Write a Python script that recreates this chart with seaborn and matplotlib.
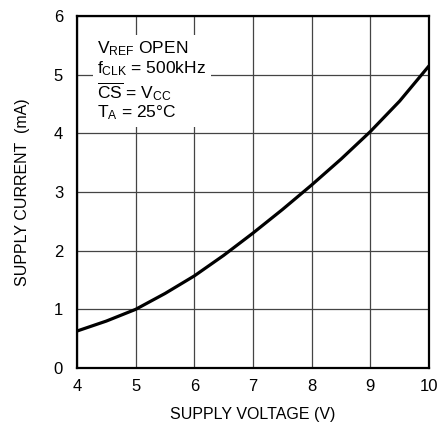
import matplotlib
matplotlib.use("Agg")
import matplotlib.pyplot as plt
import seaborn as sns
import pandas as pd

# values
supply_voltage = [4.0, 4.5, 5.0, 5.5, 6.0, 6.5, 7.0, 7.5, 8.0, 8.5, 9.0, 9.5, 10.0]
supply_current = [0.63, 0.80, 1.00, 1.27, 1.57, 1.92, 2.30, 2.70, 3.12, 3.56, 4.03, 4.55, 5.15]

x_ticks = [4, 5, 6, 7, 8, 9, 10]
y_ticks = [0, 1, 2, 3, 4, 5, 6]

note_lines = [r"$\mathregular{V_{REF}}$ OPEN",
              r"$\mathregular{f_{CLK}}$ = 500kHz",
              r"$\mathregular{\overline{CS}}$ = $\mathregular{V_{CC}}$",
              r"$\mathregular{T_A}$ = 25°C"]

sns.set_style("white")
plt.rcParams['font.family'] = ['Liberation Sans', 'DejaVu Sans']
plt.rcParams['mathtext.default'] = 'regular'
plt.rcParams['text.color'] = 'black'
plt.rcParams['axes.labelcolor'] = 'black'
plt.rcParams['xtick.color'] = 'black'
plt.rcParams['ytick.color'] = 'black'

df = pd.DataFrame({'V': supply_voltage, 'I': supply_current})

fig = plt.figure(figsize=(4.41, 4.23), dpi=100)
ax = fig.add_axes([0.1746, 0.130, 0.7982, 0.8322])

sns.lineplot(data=df, x='V', y='I', ax=ax, color='black', linewidth=2.3, zorder=3)

ax.set_xlim(4, 10)
ax.set_ylim(0, 6)
ax.set_xticks(x_ticks)
ax.set_yticks(y_ticks)
ax.grid(True, color='#444444', linewidth=0.9)
for s in ax.spines.values():
    s.set_color('black')
    s.set_linewidth(1.6)
ax.tick_params(length=0, labelsize=12)
ax.tick_params(axis='y', pad=10)
ax.tick_params(axis='x', pad=8)
ax.set_xlabel('SUPPLY VOLTAGE (V)', fontsize=11.5, labelpad=9)
ax.set_ylabel('SUPPLY CURRENT  (mA)', fontsize=11.5, labelpad=17)

ax.text(0.058, 0.933, "\n".join(note_lines), transform=ax.transAxes, fontsize=12.5,
        va='top', ha='left', linespacing=1.08, zorder=4,
        bbox=dict(facecolor='white', edgecolor='none', pad=3))

fig.savefig('out.png', dpi=100)
